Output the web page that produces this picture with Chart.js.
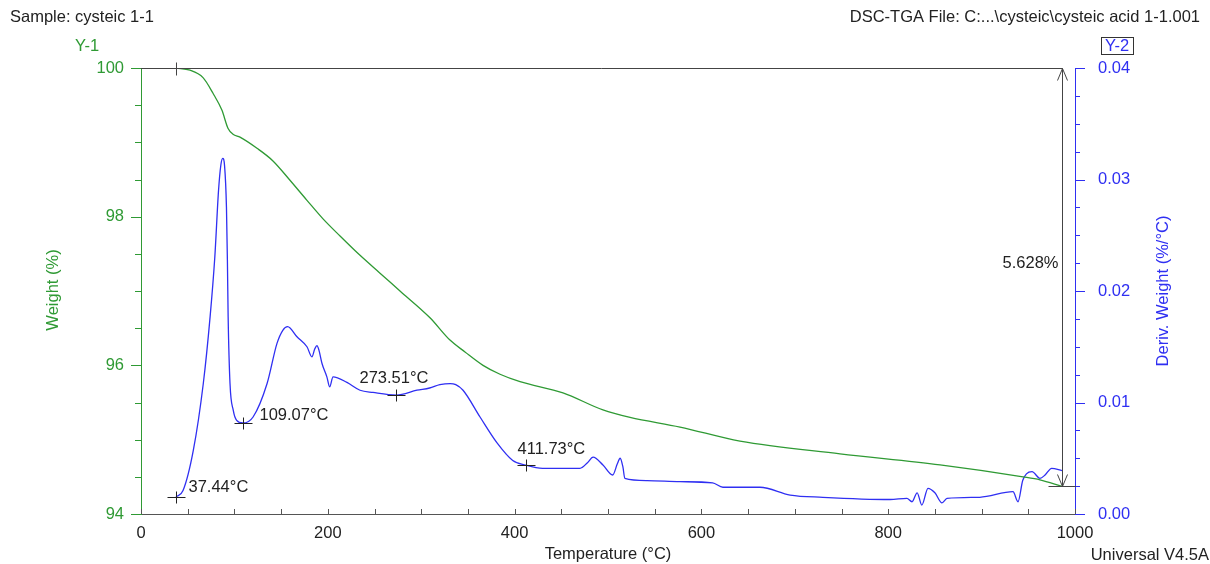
<!DOCTYPE html>
<html>
<head>
<meta charset="utf-8">
<script src="https://cdn.jsdelivr.net/npm/chart.js@4.4.1/dist/chart.umd.min.js"></script>
<style>
  body { margin: 0; background: #fff; }
  canvas { display: block; }
</style>
</head>
<body>
<canvas id="tga" width="1210" height="564"></canvas>
<script>
// Weight (%) vs temperature, left axis (Y-1)
const weightTemp = [37.5, 52.5, 66.4, 77.1, 86.7, 93.1, 98.5, 106, 124.2, 141.3, 159.5, 177.7, 194.9, 213.1,
  234.5, 255.9, 277.3, 309.4, 330.8, 346.9, 366.2, 384.4, 405.8, 451.8, 494.6, 523.6, 577.1, 641.3,
  748.4, 855.5, 944.3, 962.5, 986];
const weightPct = [100.00, 99.97, 99.87, 99.66, 99.43, 99.19, 99.11, 99.07, 98.92, 98.75, 98.49, 98.22, 97.97, 97.74,
  97.48, 97.24, 97.00, 96.64, 96.34, 96.18, 96.00, 95.88, 95.78, 95.63, 95.40, 95.30, 95.17, 94.98,
  94.81, 94.66, 94.50, 94.46, 94.372];

// Deriv. weight (%/°C), right axis (Y-2)
const derivTemp = [37.44, 45, 56, 66.7, 74, 79, 83, 85.5, 87.5, 89.5, 91.5, 92.5, 93.3, 95.3, 98.8, 102.4, 109.07,
  120, 135, 145.6, 152, 157, 167, 177.7, 183, 186, 188.4, 190.5, 193.8, 199, 202, 205.6, 220.5, 234.5, 248.4,
  273.51, 295.5, 309, 320, 331, 337, 344.8, 363, 381, 398, 411.73, 430, 459, 470, 478, 484, 494.6, 505, 510,
  513, 516, 518, 541.8, 577, 612, 623, 662.7, 695, 730, 802, 820, 825.5, 831, 836, 842.6, 850, 857.6, 863,
  898, 933.6, 939, 944, 948, 954, 962.5, 968, 975, 986];
const derivVal = [0.00152, 0.0021, 0.0057, 0.0117, 0.0177, 0.0230, 0.0290, 0.0313, 0.0319, 0.0312, 0.0275, 0.0228,
  0.0177, 0.0117, 0.0093, 0.0084, 0.00816,
  0.0087, 0.0117, 0.0153, 0.0165, 0.0168, 0.0159, 0.0150, 0.0141, 0.0148, 0.0151, 0.0147, 0.0135, 0.0123, 0.0114,
  0.0123, 0.0118, 0.0111, 0.0109,
  0.01067, 0.0111, 0.0113, 0.0116, 0.0117, 0.0116, 0.0111, 0.0087, 0.0064, 0.0048, 0.00439, 0.0041, 0.0041, 0.0041,
  0.0046, 0.0051, 0.0044, 0.0035, 0.0045,
  0.0050, 0.0042, 0.0032, 0.0030, 0.0029, 0.0028, 0.0024, 0.0024, 0.0017, 0.0015, 0.0013, 0.0014, 0.0011, 0.0019,
  0.0008, 0.0023, 0.0019, 0.0010, 0.0014,
  0.0015, 0.0020, 0.0011, 0.0030, 0.0036, 0.0038, 0.0032, 0.0035, 0.0041, 0.0039];

// labelled points on the derivative curve
const peakTemps = [37.44, 109.07, 273.51, 411.73];
const peakDeriv = [0.00152, 0.00816, 0.01067, 0.00439];

// weight step measured between start and end temperature
const stepStart = 37.44;
const stepEnd = 986;
const stepLoss = 5.628;

const GREEN = '#2f9a34';
const BLUE = '#2f2ff2';
const INK = '#222';
const FONT = '"Liberation Sans", Arial, sans-serif';
const TEXT_SIZE = 16.5;

// text offsets for the peak labels, relative to each cross
const peakLabelOffset = [[12, -10], [16, -8], [-37, -17], [-9, -16]];

function fixedSize(w, h) {
  return scale => {
    if (w != null) scale.width = w;
    if (h != null) scale.height = h;
  };
}

// minor/major tick marks, step annotation, crosses and free text
const decor = {
  id: 'decor',
  afterDatasetsDraw(chart) {
    const ctx = chart.ctx;
    const { x, y, y2 } = chart.scales;
    const area = chart.chartArea;
    ctx.save();
    ctx.lineWidth = 1;

    // x ticks, every 50 °C, pointing into the plot
    ctx.strokeStyle = '#555';
    for (let t = 0; t <= 1000; t += 50) {
      const px = Math.round(x.getPixelForValue(t)) + 0.5;
      ctx.beginPath();
      ctx.moveTo(px, area.bottom);
      ctx.lineTo(px, area.bottom - 5);
      ctx.stroke();
    }
    // left ticks, major every 2 %, minor every 0.5 %
    ctx.strokeStyle = GREEN;
    for (let v = 94; v <= 100.001; v += 0.5) {
      const py = Math.round(y.getPixelForValue(v)) + 0.5;
      const len = Math.abs(v % 2) < 0.01 ? 10 : 6;
      ctx.beginPath();
      ctx.moveTo(area.left, py);
      ctx.lineTo(area.left - len, py);
      ctx.stroke();
    }
    // right ticks, major every 0.01, minor every 0.0025
    ctx.strokeStyle = BLUE;
    for (let i = 0; i <= 16; i++) {
      const py = Math.round(y2.getPixelForValue(i * 0.0025)) + 0.5;
      const len = i % 4 === 0 ? 10 : 5;
      ctx.beginPath();
      ctx.moveTo(area.right, py);
      ctx.lineTo(area.right + len, py);
      ctx.stroke();
    }

    // step annotation: top line, vertical double arrow, end tick
    const xs = x.getPixelForValue(stepStart);
    const xe = Math.round(x.getPixelForValue(stepEnd)) + 0.5;
    const yTop = Math.round(y.getPixelForValue(100)) + 0.5;
    const yBot = Math.round(y.getPixelForValue(100 - stepLoss)) + 0.5;
    ctx.strokeStyle = '#444';
    ctx.beginPath();
    ctx.moveTo(area.left, yTop); ctx.lineTo(xe, yTop);
    ctx.moveTo(Math.round(xs) + 0.5, yTop - 6); ctx.lineTo(Math.round(xs) + 0.5, yTop + 7);
    ctx.moveTo(xe, yTop); ctx.lineTo(xe, yBot);
    ctx.moveTo(xe - 5, yTop + 12); ctx.lineTo(xe, yTop); ctx.lineTo(xe + 5, yTop + 12);
    ctx.moveTo(xe - 5, yBot - 12); ctx.lineTo(xe, yBot); ctx.lineTo(xe + 5, yBot - 12);
    ctx.moveTo(xe - 14, yBot); ctx.lineTo(area.right + 1, yBot);
    ctx.stroke();

    ctx.font = TEXT_SIZE + 'px ' + FONT;
    ctx.fillStyle = INK;
    ctx.textAlign = 'right';
    ctx.textBaseline = 'middle';
    ctx.fillText(stepLoss.toFixed(3) + '%', xe - 4, (yTop + yBot) / 2 - 14);

    // crosses with temperature labels
    ctx.strokeStyle = INK;
    ctx.textAlign = 'left';
    peakTemps.forEach((t, i) => {
      const px = Math.round(x.getPixelForValue(t)) + 0.5;
      const py = Math.round(y2.getPixelForValue(peakDeriv[i])) + 0.5;
      ctx.beginPath();
      ctx.moveTo(px - 9, py); ctx.lineTo(px + 9, py);
      ctx.moveTo(px, py - 6); ctx.lineTo(px, py + 6);
      ctx.stroke();
      const [dx, dy] = peakLabelOffset[i];
      ctx.fillText(t.toFixed(2) + '°C', px + dx, py + dy);
    });

    // header, footer and axis titles
    ctx.fillText('Sample: cysteic 1-1', 10, 17);
    ctx.textAlign = 'right';
    ctx.fillText('DSC-TGA File: C:...\\cysteic\\cysteic acid 1-1.001', 1200, 17);
    ctx.fillText('Universal V4.5A', 1209, 555);
    ctx.textAlign = 'center';
    ctx.fillText('Temperature (°C)', (area.left + area.right) / 2, 554);

    ctx.fillStyle = GREEN;
    ctx.fillText('Y-1', 87, 46);
    ctx.fillStyle = BLUE;
    ctx.fillText('Y-2', 1117, 46);
    ctx.strokeStyle = '#333';
    ctx.strokeRect(1101.5, 37.5, 32, 17);

    ctx.save();
    ctx.translate(53, 290);
    ctx.rotate(-Math.PI / 2);
    ctx.fillStyle = GREEN;
    ctx.fillText('Weight (%)', 0, 0);
    ctx.restore();

    ctx.save();
    ctx.translate(1163, 291);
    ctx.rotate(-Math.PI / 2);
    ctx.fillStyle = BLUE;
    ctx.fillText('Deriv. Weight (%/°C)', 0, 0);
    ctx.restore();

    ctx.restore();
  }
};

const tickFont = { family: FONT, size: TEXT_SIZE };

new Chart(document.getElementById('tga'), {
  type: 'line',
  data: {
    datasets: [{
      label: 'Weight (%)',
      data: weightTemp.map((t, i) => ({ x: t, y: weightPct[i] })),
      borderColor: GREEN,
      borderWidth: 1.3,
      pointRadius: 0,
      cubicInterpolationMode: 'monotone',
      yAxisID: 'y'
    }, {
      label: 'Deriv. Weight (%/°C)',
      data: derivTemp.map((t, i) => ({ x: t, y: derivVal[i] })),
      borderColor: BLUE,
      borderWidth: 1.3,
      pointRadius: 0,
      cubicInterpolationMode: 'monotone',
      yAxisID: 'y2'
    }]
  },
  options: {
    responsive: false,
    animation: false,
    layout: { padding: { top: 68, left: 0, right: 0, bottom: 0 } },
    plugins: { legend: { display: false }, tooltip: { enabled: false } },
    scales: {
      x: {
        type: 'linear',
        min: 0,
        max: 1000,
        afterFit: fixedSize(null, 50),
        grid: { display: false, drawTicks: false },
        border: { color: '#555' },
        ticks: { stepSize: 200, color: INK, font: tickFont, padding: 10, maxRotation: 0, callback: v => String(v) }
      },
      y: {
        position: 'left',
        min: 94,
        max: 100,
        afterFit: fixedSize(141, null),
        grid: { display: false, drawTicks: false },
        border: { color: GREEN },
        ticks: { stepSize: 2, color: GREEN, font: tickFont, padding: 17 }
      },
      y2: {
        position: 'right',
        min: 0,
        max: 0.04,
        afterFit: fixedSize(135, null),
        grid: { display: false, drawTicks: false },
        border: { color: BLUE },
        ticks: { stepSize: 0.01, color: BLUE, font: tickFont, padding: 23, callback: v => v.toFixed(2) }
      }
    }
  },
  plugins: [decor]
});
</script>
</body>
</html>
